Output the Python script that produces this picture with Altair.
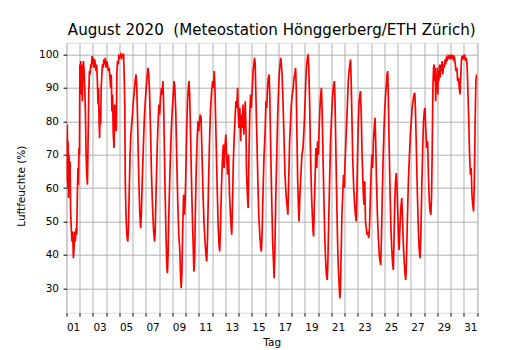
import altair as alt
import pandas as pd

# Relative humidity, August 2020, Hönggerberg/ETH Zürich
# (day position: 0 = 1 Aug 00:00, 31 = 1 Sep 00:00, value in %)
aug01 = [(0.00,76),(0.03,62),(0.06,79),(0.09,60),(0.12,74),(0.15,57),(0.19,70),(0.23,62),(0.27,68),(0.31,53),
         (0.36,48),(0.41,44),(0.46,47),(0.52,39),(0.57,42),(0.62,47),(0.67,44),(0.72,48),(0.77,46),(0.82,58),
         (0.86,66),(0.90,61),(0.94,72),(0.98,70)]
aug02_03 = [(1.01,97),(1.04,88),(1.07,98),(1.10,90),(1.13,97),(1.17,88),(1.20,86),(1.24,95),(1.28,98),(1.33,95),
            (1.38,90),(1.43,82),(1.48,70),(1.53,64),(1.58,61),(1.63,74),(1.68,88),(1.73,95),(1.78,94),(1.83,97),
            (1.88,96),(1.93,99.5),(1.98,97),(2.03,99),(2.08,96),(2.13,98.5),(2.18,97),(2.23,95),(2.28,97),(2.33,92)]
aug03_05 = [(2.38,85),(2.42,90),(2.46,80),(2.50,75),(2.54,84),(2.58,79),(2.62,90),(2.67,94),(2.72,97),(2.77,96),
            (2.82,98.5),(2.88,97),(2.93,99),(2.98,96),(3.04,98),(3.10,97),(3.16,95),(3.22,96),(3.28,93),(3.33,90),
            (3.38,94),(3.43,83),(3.48,88),(3.53,76),(3.59,72),(3.64,85),(3.70,80),(3.76,77),(3.80,94),(3.85,98),
            (3.90,97),(3.95,99.5),(4.02,99),(4.10,100),(4.17,99),(4.24,100),(4.31,100),(4.36,93),(4.40,85),(4.44,62)]
aug05_09 = [(4.48,54),(4.53,48),(4.58,45),(4.63,44),(4.68,48),(4.73,58),(4.80,70),(4.86,76),(4.92,79),(4.98,82),
            (5.05,86),(5.12,89),(5.18,92),(5.25,94),(5.30,91),(5.36,82),(5.42,70),(5.48,60),(5.54,52),(5.60,48),
            (5.66,53),(5.72,62),(5.80,72),(5.88,81),(5.95,86),(6.02,90),(6.08,93),(6.15,96),(6.21,94),(6.27,89),
            (6.34,78),(6.42,64),(6.50,54),(6.58,47),(6.65,44),(6.70,47),(6.77,60),(6.85,72),(6.92,80),(6.98,85),
            (7.04,82),(7.10,87),(7.17,90),(7.23,88),(7.28,92),(7.33,86),(7.39,72),(7.45,58),(7.52,45),(7.58,36),
            (7.62,34.5),(7.67,40),(7.74,54),(7.82,66),(7.90,76),(7.98,83),(8.05,87),(8.12,92),(8.18,90),(8.25,83),
            (8.33,68),(8.40,56),(8.48,46),(8.55,42),(8.62,33),(8.66,30),(8.71,34),(8.78,48),(8.84,58),(8.90,52),
            (8.96,56)]
aug10_13 = [(9.02,66),(9.08,78),(9.14,86),(9.20,90),(9.25,92),(9.30,88),(9.36,78),(9.43,64),(9.50,52),(9.56,44),
            (9.62,35),(9.67,38),(9.73,52),(9.80,66),(9.87,75),(9.93,80),(9.98,77),(10.04,80),(10.10,82),(10.16,81),
            (10.22,72),(10.30,60),(10.38,50),(10.46,44),(10.53,40),(10.59,38),(10.65,45),(10.72,60),(10.80,74),
            (10.88,84),(10.96,89),(11.04,92),(11.10,90),(11.16,95),(11.22,88),(11.30,74),(11.38,60),(11.46,48),
            (11.52,43),(11.57,41),(11.63,48),(11.70,60),(11.77,68),(11.84,73),(11.90,66),(11.96,72),(12.03,76),
            (12.10,69),(12.17,64),(12.24,70),(12.31,58),(12.38,52),(12.44,48),(12.48,46),(12.54,56),(12.60,68),
            (12.67,76),(12.74,82),(12.80,86),(12.86,84),(12.92,90),(12.97,82)]
aug14_18 = [(13.03,78),(13.09,84),(13.15,74),(13.21,82),(13.27,78),(13.33,85),(13.39,76),(13.45,80),(13.50,86),
            (13.55,78),(13.60,64),(13.66,58),(13.72,54),(13.78,70),(13.84,82),(13.90,88),(13.96,84),(14.03,90),
            (14.09,95),(14.15,97),(14.20,99),(14.25,97),(14.30,88),(14.37,76),(14.44,64),(14.52,52),(14.60,46),
            (14.67,42),(14.72,41),(14.78,48),(14.85,60),(14.92,70),(15.00,77),(15.06,86),(15.12,84),(15.18,90),
            (15.24,93),(15.30,94),(15.35,88),(15.42,72),(15.50,56),(15.57,44),(15.63,38),(15.68,33),(15.73,40),
            (15.80,56),(15.88,70),(15.95,82),(16.02,90),(16.08,95),(16.13,97),(16.18,99),(16.23,97),(16.28,94),
            (16.35,86),(16.42,76),(16.50,64),(16.58,58),(16.65,55),(16.72,52),(16.78,62),(16.85,74),(16.92,80),
            (16.98,85),(17.05,88),(17.12,90),(17.18,93),(17.24,94),(17.30,96),(17.35,90),(17.40,76),(17.46,62),
            (17.52,54),(17.56,50),(17.62,57),(17.70,64),(17.78,70),(17.86,72),(17.94,78)]
aug19_22 = [(18.02,86),(18.08,93),(18.14,97),(18.20,99),(18.25,100),(18.30,96),(18.36,86),(18.42,72),(18.49,60),
            (18.56,52),(18.62,47),(18.66,45.5),(18.71,54),(18.78,64),(18.84,72),(18.90,66),(18.96,74),(19.02,70),
            (19.08,78),(19.14,84),(19.20,88),(19.25,90),(19.30,84),(19.36,72),(19.43,58),(19.50,46),(19.57,38),
            (19.63,34),(19.69,32.5),(19.74,38),(19.80,50),(19.87,62),(19.94,74),(20.00,80),(20.06,85),(20.12,89),
            (20.18,91),(20.23,92),(20.28,86),(20.34,72),(20.40,58),(20.47,44),(20.53,36),(20.59,31),(20.64,27),
            (20.69,30),(20.75,42),(20.80,52),(20.86,58),(20.92,64),(20.98,60),(21.04,68),(21.10,74),(21.16,80),
            (21.22,86),(21.28,92),(21.34,95),(21.40,97),(21.45,98.5),(21.50,92),(21.56,80),(21.62,68),(21.69,60),
            (21.76,55),(21.82,52),(21.88,50),(21.93,58),(21.98,70),(22.04,80),(22.10,86),(22.16,88),(22.20,89),
            (22.26,82),(22.32,70),(22.40,60)]
aug23_28 = [(22.46,55),(22.52,62),(22.58,50),(22.64,48),(22.70,46),(22.76,47),(22.82,45),(22.88,48),(22.94,56),
            (23.00,64),(23.06,70),(23.12,66),(23.18,74),(23.24,78),(23.30,81),(23.35,74),(23.41,62),(23.48,52),
            (23.55,45),(23.62,40),(23.68,38),(23.73,37),(23.78,44),(23.85,58),(23.92,70),(23.98,78),(24.04,84),
            (24.10,88),(24.16,91),(24.21,94),(24.26,95),(24.30,88),(24.36,74),(24.43,60),(24.50,48),(24.56,42),
            (24.62,38),(24.68,35.5),(24.73,44),(24.79,56),(24.85,62),(24.91,64.5),(24.96,60),(25.02,52),(25.08,44),
            (25.12,41.5),(25.18,48),(25.25,54),(25.32,57),(25.37,52),(25.43,44),(25.50,38),(25.57,34),(25.62,32.5),
            (25.67,38),(25.74,50),(25.82,62),(25.90,70),(25.97,76),(26.04,80),(26.10,84),(26.17,86),(26.24,88),
            (26.30,88.5),(26.35,84),(26.42,72),(26.50,58),(26.57,48),(26.63,42),(26.70,39),(26.76,46),(26.83,60),
            (26.90,72),(26.96,80),(27.02,83),(27.07,84),(27.13,78),(27.20,72),(27.27,74),(27.33,64),(27.40,56),
            (27.46,53),(27.52,52)]
aug28_31 = [(27.57,58),(27.62,72),(27.67,90),(27.72,96),(27.76,97),(27.80,92),(27.84,96),(27.88,86),(27.92,94),
            (27.96,90),(28.00,96),(28.04,88),(28.08,95),(28.12,92),(28.17,97),(28.22,93),(28.27,97),(28.32,95),
            (28.37,98),(28.42,94),(28.47,97),(28.53,96),(28.58,98.5),(28.64,97),(28.70,99),(28.76,98.5),(28.82,99.5),
            (28.88,99),(28.94,99.8),(29.00,98.5),(29.06,99.5),(29.12,99),(29.18,99.8),(29.24,98.5),(29.30,99),
            (29.36,97),(29.42,95),(29.48,96),(29.54,92),(29.60,93),(29.66,90),(29.72,88),(29.77,93),(29.82,98),
            (29.87,99.5),(29.92,98.5),(29.97,99.8),(30.02,99),(30.08,99.5),(30.14,98),(30.20,99),(30.26,96),
            (30.32,88),(30.38,80),(30.44,70),(30.50,64),(30.56,66),(30.62,58),(30.68,55),(30.74,53),(30.80,62),
            (30.86,80),(30.92,92),(30.97,94)]

y_ticks = [30, 40, 50, 60, 70, 80, 90, 100]
x_ticks = list(range(0, 32))

readings = aug01 + aug02_03 + aug03_05 + aug05_09 + aug10_13 + aug14_18 + aug19_22 + aug23_28 + aug28_31
df = pd.DataFrame(readings, columns=["tag", "feuchte"])

FONT = "DejaVu Sans"
label_expr = ("datum.value % 2 == 0 && datum.value < 31 ? "
              "(datum.value < 9 ? '0' + (datum.value + 1) : '' + (datum.value + 1)) : ''")

chart = alt.Chart(df).mark_line(color="#ff0000", strokeWidth=1.7, clip=True).encode(
    x=alt.X("tag:Q",
            scale=alt.Scale(domain=[0, 31], nice=False, zero=False),
            axis=alt.Axis(values=x_ticks, labelExpr=label_expr, labelOffset=6.6,
                          labelOverlap=False, labelFlush=False, labelBound=False,
                          tickSize=3.5, tickColor="black", tickWidth=1,
                          labelBaseline="alphabetic", labelPadding=14.3,
                          labelFont=FONT, labelFontSize=10.5, labelColor="black",
                          domain=False, grid=True, gridColor="#b0b0b0", gridWidth=1,
                          title="Tag", titleFont=FONT, titleFontSize=10.5,
                          titleFontWeight="normal", titleColor="black",
                          titleBaseline="alphabetic", titleAnchor="middle", titleY=32.8)),
    y=alt.Y("feuchte:Q",
            scale=alt.Scale(domain=[22.7, 103.5], nice=False, zero=False),
            axis=alt.Axis(values=y_ticks, tickSize=3.5, tickColor="black", tickWidth=1,
                          labelPadding=4.5, labelFont=FONT, labelFontSize=10.5,
                          labelColor="black", labelBaseline="middle",
                          domain=False, grid=True, gridColor="#b0b0b0", gridWidth=1,
                          title="Luftfeuchte (%)", titleFont=FONT, titleFontSize=10.5,
                          titleFontWeight="normal", titleColor="black",
                          titleAngle=270, titleBaseline="alphabetic", titleAlign="center",
                          titleX=-42.5, titleY=143)),
).properties(
    width=410.5, height=270,
    title=alt.TitleParams("August 2020 \u00a0(Meteostation Hönggerberg/ETH Zürich)",
                          font=FONT, fontSize=15.1, fontWeight="normal", color="black",
                          anchor="middle", frame="group", baseline="alphabetic", offset=8, dy=15),
    autosize=alt.AutoSizeParams(type="none"),
    padding={"left": 58.5, "top": 34.7, "right": 45, "bottom": 36},
).configure_view(stroke="black", strokeWidth=1).configure(background="white")

chart.save("out.html", embed_options={"renderer": "svg", "actions": False})
